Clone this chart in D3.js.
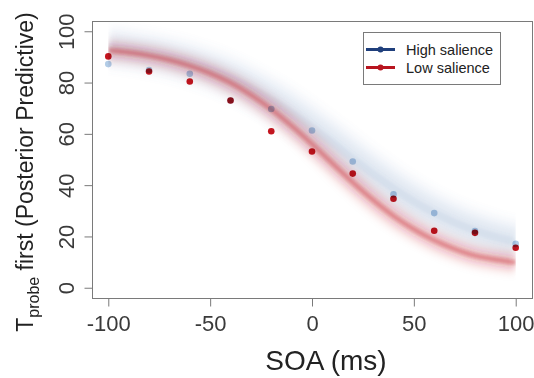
<!DOCTYPE html>
<html>
<head>
<meta charset="utf-8">
<script src="https://cdn.jsdelivr.net/npm/d3@7"></script>
<style>
  body { margin: 0; background: #fff; }
  svg text { font-family: "Liberation Sans", Arial, Helvetica, sans-serif; }
</style>
</head>
<body>
<div id="chart"></div>
<script>
// observed proportions (dots)
const soa = [-100, -80, -60, -40, -20, 0, 20, 40, 60, 80, 100];
const highObs = [87.2, 84.9, 83.4, 73.0, 69.7, 61.3, 49.2, 36.4, 29.1, 22.1, 17.1];
const lowObs = [90.2, 84.3, 80.4, 73.0, 61.0, 53.1, 44.5, 34.7, 22.2, 21.4, 15.6];

// posterior predictive centre lines
const curveSoa = [-100, -90, -80, -70, -60, -50, -40, -30, -20, -10, 0, 10, 20, 30, 40, 50, 60, 70, 80, 90, 100];
const highFit = [93.8, 92.8, 91.5, 89.8, 87.7, 85.1, 81.9, 77.9, 73.4, 68.2, 62.5, 56.5, 50.3, 44.3, 38.7, 33.6, 29.2, 25.4, 22.3, 19.8, 17.8];
const lowFit = [92.6, 91.7, 90.5, 88.8, 86.5, 83.6, 79.9, 75.2, 69.6, 63.1, 56.0, 48.5, 41.1, 34.2, 28.0, 22.8, 18.5, 15.1, 12.5, 11.0, 9.8];

const xTicks = [-100, -50, 0, 50, 100];
const yTicks = [0, 20, 40, 60, 80, 100];
const legendLabels = ["High salience", "Low salience"];

const W = 534, H = 378;
const pLeft = 92, pRight = 532, pTop = 21, pBottom = 298;

const svg = d3.select("#chart").append("svg")
  .attr("width", W)
  .attr("height", H);

const x = d3.scaleLinear().domain([-108, 108]).range([pLeft, pRight]);
const y = d3.scaleLinear().domain([-4, 104]).range([pBottom, pTop]);

const defs = svg.append("defs");
defs.append("clipPath").attr("id", "bandclip")
  .append("rect")
  .attr("x", x(-100)).attr("y", pTop)
  .attr("width", x(100) - x(-100)).attr("height", pBottom - pTop);
defs.append("filter").attr("id", "blurA")
  .attr("x", "-10%").attr("y", "-20%").attr("width", "120%").attr("height", "140%")
  .append("feGaussianBlur").attr("stdDeviation", 3);
defs.append("filter").attr("id", "blurB")
  .attr("x", "-10%").attr("y", "-20%").attr("width", "120%").attr("height", "140%")
  .append("feGaussianBlur").attr("stdDeviation", 1.5);

const line = d3.line()
  .x((d, i) => x(curveSoa[i]))
  .y(d => y(d))
  .curve(d3.curveMonotoneX);

// bands (many posterior draws -> fuzzy ribbon)
const bands = svg.append("g").attr("clip-path", "url(#bandclip)");

function band(values, color, widths, alphas, innerW, innerA) {
  const g = bands.append("g").attr("filter", "url(#blurA)");
  widths.forEach((w, i) => {
    g.append("path")
      .attr("d", line(values))
      .attr("fill", "none")
      .attr("stroke", color)
      .attr("stroke-opacity", alphas[i])
      .attr("stroke-width", w);
  });
  bands.append("g").attr("filter", "url(#blurB)")
    .append("path")
    .attr("d", line(values))
    .attr("fill", "none")
    .attr("stroke", color)
    .attr("stroke-opacity", innerA)
    .attr("stroke-width", innerW);
}

band(highFit, "#6a92bd", [46, 32, 20], [0.05, 0.07, 0.09], 8, 0.1);
band(lowFit, "#c8202a", [28, 18, 11], [0.05, 0.1, 0.16], 5, 0.33);

// points
svg.append("g").selectAll("circle")
  .data(highObs)
  .enter().append("circle")
  .attr("cx", (d, i) => x(soa[i]))
  .attr("cy", d => y(d))
  .attr("r", 3.3)
  .attr("fill", "#b2cce6")
  .style("mix-blend-mode", "multiply");

svg.append("g").selectAll("circle")
  .data(lowObs)
  .enter().append("circle")
  .attr("cx", (d, i) => x(soa[i]))
  .attr("cy", d => y(d))
  .attr("r", 3.3)
  .attr("fill", "#c4141e")
  .style("mix-blend-mode", "multiply");

// box
svg.append("rect")
  .attr("x", pLeft + 0.5).attr("y", pTop + 0.5)
  .attr("width", pRight - pLeft).attr("height", pBottom - pTop)
  .attr("fill", "none")
  .attr("stroke", "#7a7a7a")
  .attr("stroke-width", 1);

// axes
const xAxis = svg.append("g")
  .attr("transform", `translate(0, ${pBottom + 0.5})`)
  .call(d3.axisBottom(x).tickValues(xTicks).tickSize(8).tickFormat(d => String(d)));
xAxis.select(".domain").remove();
xAxis.selectAll("line").attr("stroke", "#7a7a7a");
xAxis.selectAll("text")
  .attr("y", 32).attr("dy", 0)
  .attr("fill", "#3a3a3a")
  .style("font-size", "22px")
  .style("font-family", "'Liberation Sans', Arial, sans-serif");

const yAxis = svg.append("g")
  .attr("transform", `translate(${pLeft + 0.5}, 0)`)
  .call(d3.axisLeft(y).tickValues(yTicks).tickSize(8));
yAxis.select(".domain").remove();
yAxis.selectAll("line").attr("stroke", "#7a7a7a");
yAxis.selectAll("text")
  .attr("x", 0).attr("dy", 0)
  .attr("transform", "translate(-19, 0) rotate(-90)")
  .attr("text-anchor", "middle")
  .attr("fill", "#3a3a3a")
  .style("font-size", "22px")
  .style("font-family", "'Liberation Sans', Arial, sans-serif");

// axis titles
svg.append("text")
  .attr("x", 326).attr("y", 370)
  .attr("text-anchor", "middle")
  .attr("fill", "#222")
  .style("font-size", "28px")
  .text("SOA (ms)");

const yt = svg.append("text")
  .attr("transform", "translate(33, 172) rotate(-90)")
  .attr("text-anchor", "middle")
  .attr("fill", "#222")
  .style("font-size", "23px");
yt.append("tspan").text("T");
yt.append("tspan").attr("dy", 6).style("font-size", "16px").text("probe");
yt.append("tspan").attr("dy", -6).text(" first (Posterior Predictive)");

// legend
const legend = svg.append("g");
legend.append("rect")
  .attr("x", 363.5).attr("y", 32.5)
  .attr("width", 137).attr("height", 52)
  .attr("fill", "#fff")
  .attr("stroke", "#7a7a7a");
const legColors = ["#1f3f7c", "#b8151f"];
legendLabels.forEach((lab, i) => {
  const ly = 49.5 + i * 18;
  legend.append("line")
    .attr("x1", 366).attr("x2", 395)
    .attr("y1", ly).attr("y2", ly)
    .attr("stroke", legColors[i]).attr("stroke-width", 3);
  legend.append("circle")
    .attr("cx", 380.5).attr("cy", ly).attr("r", 3)
    .attr("fill", legColors[i]);
  legend.append("text")
    .attr("x", 406).attr("y", ly + 5)
    .attr("fill", "#222")
    .style("font-size", "14.5px")
    .text(lab);
});
</script>
</body>
</html>
